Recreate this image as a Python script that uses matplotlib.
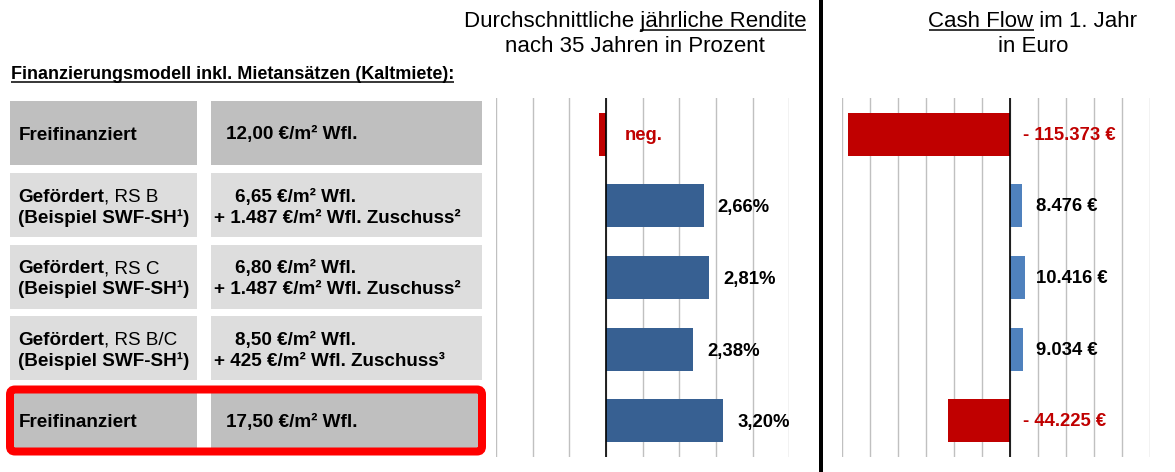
import matplotlib
matplotlib.use("Agg")
import matplotlib.pyplot as plt
from matplotlib.patches import Rectangle, FancyBboxPatch

plt.rcParams['font.family'] = ['Liberation Sans', 'DejaVu Sans']

# ---------------- data ----------------
model_names = ["Freifinanziert", "Gefördert", "Gefördert", "Gefördert", "Freifinanziert"]
model_suffix = ["", ", RS B", ", RS C", ", RS B/C", ""]
model_line2 = ["", "(Beispiel SWF-SH¹)", "(Beispiel SWF-SH¹)", "(Beispiel SWF-SH¹)", ""]
rent_line1 = ["12,00 €/m² Wfl.", "6,65 €/m² Wfl.", "6,80 €/m² Wfl.", "8,50 €/m² Wfl.", "17,50 €/m² Wfl."]
rent_line2 = ["", "+ 1.487 €/m² Wfl. Zuschuss²", "+ 1.487 €/m² Wfl. Zuschuss²",
              "+ 425 €/m² Wfl. Zuschuss³", ""]

rendite = [-0.2, 2.66, 2.81, 2.38, 3.20]          # first value: "neg."
rendite_labels = ["neg.", "2,66%", "2,81%", "2,38%", "3,20%"]
cashflow = [-115373, 8476, 10416, 9034, -44225]
cashflow_labels = ["- 115.373 €", "8.476 €", "10.416 €", "9.034 €", "- 44.225 €"]
rendite_ticks = list(range(-3, 6))
cashflow_ticks = list(range(-120000, 100001, 20000))

header = "Finanzierungsmodell inkl. Mietansätzen (Kaltmiete):"
title1_a, title1_b = "Durchschnittliche ", "jährliche Rendite"
title1_line2 = "nach 35 Jahren in Prozent"
title2_a, title2_b = "Cash Flow", " im 1. Jahr"
title2_line2 = "in Euro"

# ---------------- style ----------------
RED = '#C00000'
BLUE_L = '#376092'
BLUE_R = '#4F81BD'
GRID = '#C0C0C0'
DARK_BOX = '#BFBFBF'
LIGHT_BOX = '#DDDDDD'
W, H = 1175, 472
PT = 0.72  # points per pixel at dpi 100

fig = plt.figure(figsize=(W / 100, H / 100), dpi=100)
bg = fig.add_axes([0, 0, 1, 1])
bg.set_xlim(0, W)
bg.set_ylim(H, 0)
bg.axis('off')
renderer = fig.canvas.get_renderer()


def fig_rect(x0, y0, x1, y1):
    return [x0 / W, 1 - y1 / H, (x1 - x0) / W, (y1 - y0) / H]


def text_x_extent(t):
    bb = t.get_window_extent(renderer)
    return bb.x0, bb.x1


def text_width(s, **kw):
    t = bg.text(0, 0, s, **kw)
    x0, x1 = text_x_extent(t)
    t.remove()
    return x1 - x0


# ---------------- charts ----------------
ax1 = fig.add_axes(fig_rect(496, 98.3, 789.3, 456.7))
ax2 = fig.add_axes(fig_rect(841.7, 98.3, 1150.3, 456.7))

for ax, vals, ticks, pos_color in [(ax1, rendite, rendite_ticks, BLUE_L),
                                   (ax2, cashflow, cashflow_ticks, BLUE_R)]:
    ax.set_facecolor('none')
    ax.set_xlim(ticks[0], ticks[-1])
    ax.set_ylim(len(vals) - 0.5, -0.5)
    ax.set_xticks(ticks)
    ax.set_yticks([])
    ax.tick_params(length=0, labelbottom=False)
    ax.grid(axis='x', color=GRID, lw=1.0)
    ax.set_axisbelow(True)
    for s in ax.spines.values():
        s.set_visible(False)
    colors = [RED if v < 0 else pos_color for v in vals]
    ax.barh(range(len(vals)), vals, height=0.6, color=colors, zorder=2)
    ax.axvline(0, color='black', lw=1.2, zorder=3)

lab_kw = dict(textcoords='offset points', ha='left', va='center',
              fontsize=13.3, fontweight='bold', zorder=4, annotation_clip=False)
for i, (v, lab) in enumerate(zip(rendite, rendite_labels)):
    if v < 0:
        ax1.annotate(lab, xy=(0, i), xytext=(19 * PT, -1 * PT), color=RED, **lab_kw)
    else:
        ax1.annotate(lab, xy=(v, i), xytext=(14 * PT, -2 * PT), color='black', **lab_kw)

for i, (v, lab) in enumerate(zip(cashflow, cashflow_labels)):
    if v < 0:
        ax2.annotate(lab, xy=(0, i), xytext=(13 * PT, -1 * PT), color=RED, **lab_kw)
    else:
        ax2.annotate(lab, xy=(0, i), xytext=(26 * PT, -1 * PT), color='black', **lab_kw)

# ---------------- titles ----------------
tkw = dict(fontsize=16, color='black', va='baseline')
for (cx, part_a, part_b, line2, ul_first) in [(635, title1_a, title1_b, title1_line2, False),
                                               (1033, title2_a, title2_b, title2_line2, True)]:
    t = bg.text(cx, 26.7, part_a + part_b, ha='center', **tkw)
    x0, x1 = text_x_extent(t)
    if ul_first:
        w = text_width(part_a, **tkw)
        ux0, ux1 = x0, x0 + w
    else:
        w = text_width(part_b, **tkw)
        ux0, ux1 = x1 - w, x1
    bg.plot([ux0, ux1], [29.8, 29.8], color='black', lw=1.1, solid_capstyle='butt')
    bg.text(cx, 52, line2, ha='center', **tkw)

# header
hkw = dict(fontsize=13, fontweight='bold', va='baseline', color='black')
th = bg.text(11, 79, header, ha='left', **hkw)
hx0, hx1 = text_x_extent(th)
bg.plot([hx0, hx1], [81.8, 81.8], color='black', lw=1.1, solid_capstyle='butt')

# ---------------- table ----------------
row_c = [133, 205, 276.5, 348, 420.5]
row_h = [64, 64, 64, 64, 62]
col1 = (10, 197)
col2 = (211, 482)
bkw = dict(fontsize=13.6, va='baseline', color='black')
for i in range(len(model_names)):
    c, h = row_c[i], row_h[i]
    fc = DARK_BOX if model_names[i] == "Freifinanziert" else LIGHT_BOX
    for (a, b) in (col1, col2):
        bg.add_patch(Rectangle((a, c - h / 2), b - a, h, facecolor=fc, edgecolor='none', zorder=1))
    if model_line2[i]:
        y1, y2 = c - 3.4, c + 17.6
        t = bg.text(18, y1, model_names[i], fontweight='bold', zorder=3, **bkw)
        _, tx1 = text_x_extent(t)
        bg.text(tx1 + 0.5, y1, model_suffix[i], fontweight='normal', zorder=3, **bkw)
        bg.text(18, y2, model_line2[i], fontweight='bold', zorder=3, **bkw)
        bg.text(235, y1, rent_line1[i], fontweight='bold', zorder=3, **bkw)
        bg.text(214, y2, rent_line2[i], fontweight='bold', zorder=3, **bkw)
    else:
        y1 = c + 6.5
        bg.text(19, y1, model_names[i] + model_suffix[i], fontweight='bold', zorder=3, **bkw)
        bg.text(226, y1, rent_line1[i], fontweight='bold', zorder=3, **bkw)

# highlight frame around the last row
hl = len(model_names) - 1
bg.add_patch(FancyBboxPatch((col1[0], row_c[hl] - row_h[hl] / 2), col2[1] - col1[0], row_h[hl],
                            boxstyle="round,pad=0,rounding_size=5", fill=False,
                            edgecolor='#FF0000', lw=8 * PT, zorder=4))

# vertical divider
bg.plot([820.5, 820.5], [0, H], color='black', lw=4 * PT, solid_capstyle='butt')

fig.savefig('out.png', dpi=100)
